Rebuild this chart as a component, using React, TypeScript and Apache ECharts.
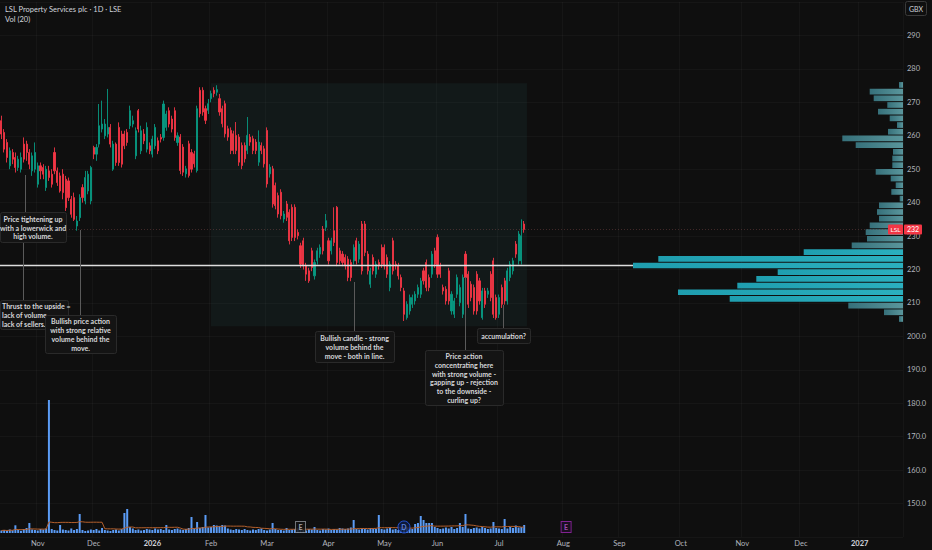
import React, { useEffect, useRef } from "react";
import * as echarts from "echarts";

// ---------- axis / calendar ----------
const START_DATE = "2025-10-15";
const AXIS_BARS = 323;
const HOLIDAYS = [
  "2025-12-25", "2025-12-26", "2026-01-01", "2026-04-03", "2026-04-06",
  "2026-05-04", "2026-05-25", "2026-08-31", "2026-12-25", "2026-12-28", "2027-01-01",
];
const MONTHS = ["Jan", "Feb", "Mar", "Apr", "May", "Jun", "Jul", "Aug", "Sep", "Oct", "Nov", "Dec"];

// ---------- price data (daily OHLC) ----------
const opens = [
  264.5, 261, 258, 251, 255, 253.5, 250.5, 250, 257.5, 257.5,
  255, 249.5, 250, 245.5, 251, 250.5, 244.5, 249.5, 248.5, 255,
  249.5, 248, 248.5, 247, 246.5, 241, 241.5, 233, 235.5, 244.5,
  240.5, 243.5, 240.5, 256.5, 254.5, 257.5, 262, 260, 260.5, 262.5,
  250, 257.5, 262.5, 260.5, 260.5, 261, 263, 263.5, 254, 267.5,
  255.5, 260.5, 256, 257, 254.5, 257, 258.5, 259.5, 259.5, 262.5,
  267.5, 265, 267.5, 258, 259.6, 256.6, 248.6, 257.6, 255, 254.6,
  249.6, 273.6, 273.6, 268.1, 267.6, 271.1, 273.6, 273, 271.1, 268.1,
  269.6, 262.1, 261.6, 260.6, 260.1, 259.6, 257.1, 257.1, 255.6, 259.6,
  259.1, 258.1, 252.1, 257.1, 256.1, 261.6, 248.6, 250.1, 245.1, 242.1,
  243.1, 235.1, 239.6, 237.1, 238.6, 238.6, 231.1, 227.1, 228.6, 221.1,
  219.6, 225.6, 218.1, 222.6, 224.6, 232.1, 232.6, 228.6, 225.6, 231.6,
  238.6, 225.6, 224.6, 223.6, 223.1, 222.1, 222.6, 228.6, 223.1, 233.6,
  233.6, 224.6, 215.6, 223.6, 218.6, 222.1, 226.6, 226.6, 223.6, 214.6,
  228.6, 221.6, 221.1, 217.6, 213.6, 205.6, 207.6, 209.6, 210.6, 212.6,
  212.6, 219.6, 222.1, 217.6, 218.6, 225.6, 229.6, 221.1, 214.6, 214.1,
  219.6, 207.6, 206.6, 212.6, 210.1, 206.6, 224.6, 218.6, 215.6, 214.6,
  218.6, 216.6, 205.6, 213.6, 212.6, 218.6, 222.6, 211.6, 206.6, 214.6,
  216.6, 210.6, 217.6, 219.6, 227.6, 222.6, 222.6, 233.6,
];
const closes = [
  260.5, 256, 253.5, 255.5, 253, 250.5, 253, 253.5, 253, 255,
  251.5, 254, 255, 251, 249.5, 248.5, 250, 247.5, 245.5, 249.5,
  246, 243.5, 243, 238.5, 241.5, 236.5, 235, 234.5, 241.5, 241.5,
  247.5, 248.5, 250.5, 254.5, 256.5, 263, 263.5, 263.5, 262.5, 257.5,
  257.5, 252, 252, 251.5, 257, 258, 267.5, 264.5, 261.5, 262,
  261.5, 258.5, 262.5, 255.5, 259, 262.5, 255.5, 259, 269.5, 266.5,
  263.5, 262, 259.5, 260, 249.6, 249.1, 250.1, 248.1, 250, 251.6,
  268.1, 266.6, 267.1, 264.6, 269.6, 272.6, 272.6, 273.8, 267.1, 263.6,
  260.6, 259.6, 255.6, 255.6, 255.6, 252.1, 251.1, 253.1, 260.1, 258.1,
  255.6, 255.6, 258.1, 255.6, 251.6, 245.6, 250.6, 239.6, 239.1, 236.6,
  236.1, 236.6, 235.6, 228.6, 229.6, 229.6, 230.1, 221.6, 221.1, 218.6,
  216.6, 220.6, 222.1, 225.6, 226.6, 225.6, 234.6, 222.6, 228.6, 228.1,
  222.1, 222.6, 222.1, 221.1, 217.6, 217.6, 226.6, 222.6, 227.6, 219.6,
  225.1, 219.6, 219.6, 219.6, 221.6, 221.1, 221.6, 221.1, 218.6, 221.6,
  219.6, 221.1, 218.1, 214.6, 206.6, 209.6, 211.6, 211.6, 212.6, 214.6,
  216.6, 216.6, 214.6, 214.6, 224.6, 221.6, 218.6, 218.6, 213.6, 210.6,
  210.6, 212.6, 210.6, 217.6, 214.6, 217.6, 217.6, 209.6, 211.6, 207.6,
  207.6, 210.6, 213.6, 209.6, 213.6, 211.6, 206.6, 205.6, 211.6, 209.6,
  210.6, 219.6, 221.6, 222.6, 224.6, 230.6, 230.1, 232,
];
const lows = [
  259, 255, 252, 250, 251.5, 249, 249.5, 249, 252, 252.5,
  250, 248, 249, 244.5, 247, 247, 243.5, 246.5, 244.5, 248.5,
  245, 243, 241, 237.5, 240.5, 235.5, 234.5, 231.6, 234.5, 240,
  239.5, 242.5, 239.5, 253, 252.5, 256.5, 261, 259, 259.5, 256.5,
  249.5, 251, 251, 250.5, 256, 257, 262, 262.5, 253, 261,
  254.5, 257.5, 255, 254.5, 253.5, 256, 254.5, 258, 258.5, 261.5,
  262.5, 261, 258.5, 257, 248.5, 248, 247.5, 247.5, 249, 250.5,
  249, 265.5, 266, 263.5, 266.5, 270, 271.5, 272, 266, 262.5,
  259.5, 258.5, 254.5, 254.5, 254.5, 251, 250, 252, 254.5, 257,
  254.5, 254.5, 251, 254.5, 250.5, 244.5, 247.5, 238.5, 238, 235.5,
  235, 234, 234.5, 227.5, 228.5, 228.5, 229, 220.5, 220, 216.6,
  216, 219.5, 217, 221.5, 223.5, 224.5, 231.5, 221.5, 224.5, 227,
  221, 221.5, 221, 220, 216.5, 216.5, 221.5, 221.5, 222, 218.5,
  224, 218.5, 214.5, 218.5, 217.5, 220, 220.5, 220, 217.5, 213.5,
  218.5, 220, 217, 213.5, 204.6, 205, 206.5, 208.5, 209.5, 211.5,
  211.5, 215.5, 213.5, 213.5, 217.5, 220.5, 217.5, 217.5, 212.5, 209.5,
  209.5, 206.5, 205.5, 211.5, 209, 205.5, 216.5, 208.5, 210.5, 206.5,
  206.5, 209.5, 205, 208.5, 211.5, 210.5, 205.5, 205, 205.5, 208.5,
  209.5, 209.5, 216.5, 218.5, 223.5, 221.5, 221.5, 231,
];
const highs = [
  266, 262, 259, 256.5, 256, 255, 254, 255, 259.5, 258.5,
  256, 255, 258, 252, 252, 251.5, 251, 251, 250, 256.5,
  250.5, 249, 250, 248, 247.5, 242, 243, 236, 242.5, 245.5,
  249.5, 249.5, 251, 257, 257.5, 269.5, 270.5, 265, 274, 263.5,
  258.5, 258, 264, 261.5, 261.5, 262, 269, 266, 262.5, 268,
  263, 262, 264, 258, 260, 263.5, 259.5, 260.5, 270.5, 267.5,
  268.5, 266, 268.5, 261, 260.5, 257.5, 251, 258.5, 256, 255.5,
  269, 274.5, 274.5, 269, 271, 273.5, 274.5, 275.1, 272.5, 269,
  270.5, 263, 262.5, 261.5, 264.1, 260.5, 258, 258, 265.6, 260.5,
  260, 259, 261.6, 258, 257, 262.5, 251.5, 251, 246, 243,
  244, 237.5, 240.5, 238, 239.5, 239.5, 232, 228, 229.5, 222,
  220.5, 226.5, 223, 226.5, 227.5, 233, 236.6, 229.5, 229.5, 238.6,
  239, 226.5, 225.5, 224.5, 224, 223, 227.5, 229.5, 228.5, 234.5,
  234.5, 225.5, 220.5, 224.5, 222.5, 223, 227.5, 227.5, 224.5, 222.5,
  229.5, 222.5, 222, 218.5, 214.5, 210.5, 212.5, 212.5, 213.5, 215.5,
  217.5, 220.5, 223, 218.5, 225.5, 226.5, 230.5, 222, 215.5, 215,
  220.5, 213.5, 211.5, 218.5, 215.5, 218.5, 225.5, 219.5, 216.5, 215.5,
  219.5, 217.5, 214.5, 214.5, 214.5, 219.5, 223.5, 212.5, 212.5, 215.5,
  217.5, 220.5, 222.5, 223.5, 228.5, 231.5, 235, 234.5,
];
// volume (thousand shares)
const volumes = [
  25, 30, 20, 35, 28, 77, 30, 22, 40, 50,
  100, 35, 30, 25, 40, 35, 45, 1330, 40, 30,
  25, 80, 35, 30, 25, 45, 30, 40, 190, 30,
  20, 25, 35, 30, 40, 25, 50, 30, 25, 20,
  30, 35, 25, 40, 200, 240, 60, 45, 30, 35,
  25, 30, 40, 35, 30, 45, 35, 40, 30, 80,
  35, 30, 40, 45, 35, 30, 40, 50, 160, 45,
  110, 50, 60, 180, 55, 60, 80, 75, 70, 80,
  75, 45, 35, 30, 40, 35, 30, 40, 30, 25,
  35, 30, 40, 45, 30, 25, 35, 100, 40, 30,
  30, 25, 50, 30, 35, 40, 45, 35, 30, 25,
  40, 35, 60, 30, 25, 40, 35, 45, 30, 40,
  35, 50, 45, 40, 45, 55, 130, 40, 35, 45,
  40, 35, 50, 45, 40, 180, 40, 35, 45, 50,
  35, 40, 30, 45, 55, 50, 45, 40, 90, 100,
  170, 130, 100, 100, 100, 60, 50, 40, 45, 55,
  45, 60, 40, 50, 100, 60, 190, 45, 40, 50,
  55, 45, 60, 50, 40, 45, 110, 50, 45, 40,
  140, 45, 60, 50, 75, 55, 60, 80,
];
const VOL_MA_LEN = 20;

// ---------- visible range volume profile ----------
const profilePrices = [
  275.2, 273.2, 271.2, 269.2, 267.2, 265.2, 263.2, 261.2, 259.2, 257.2,
  255.2, 253.2, 251.2, 249.2, 247.2, 245.2, 243.2, 241.2, 239.2, 237.2,
  235.2, 233.2, 231.2, 229.2, 227.2, 225.2, 223.2, 221.2, 219.2, 217.2,
  215.2, 213.2, 211.2, 209.2, 207.2, 205.2,
];
const profileVolumes = [
  40, 333, 293, 157, 250, 133, 60, 150, 607, 473,
  100, 107, 107, 273, 123, 73, 117, 33, 240, 260,
  240, 333, 373, 360, 513, 993, 2447, 2700, 1253, 1467,
  1657, 2250, 1733, 547, 190, 40,
];
const PROFILE_ROW = 2;
const VA_LOW = 210.2;
const VA_HIGH = 226.2;

// ---------- chart events ----------
const eventIndex = [107, 144, 202];
const eventText = ["E", "D", "E"];

// ---------- highlighted range ----------
const RANGE_START = 75;
const RANGE_END = 188;
const RANGE_HIGH = 275.7;
const RANGE_LOW = 203;

// ---------- annotations (layout) ----------
const notes = [
  { lines: ["Price tightening up", "with a lowerwick and", "high volume."], box: [0, 212, 66, 30], align: "center" },
  { lines: ["Thrust to the upside =", "lack of volume", "lack of sellers."], box: [0, 300, 68, 29], align: "left" },
  { lines: ["Bullish price action", "with strong relative", "volume behind the", "move."], box: [45, 315, 71, 38], align: "center" },
  { lines: ["Bullish candle - strong", "volume behind the", "move - both in line."], box: [315, 331, 79, 31], align: "center" },
  {
    lines: ["Price action", "concentrating here", "with strong volume -", "gapping up - rejection", "to the downside -", "curling up?"],
    box: [425, 350, 78, 55],
    align: "center",
  },
  { lines: ["accumulation?"], box: [477, 328, 53, 15], align: "center" },
];
const connectors = [
  [25, 175, 212],
  [23, 242, 300],
  [80, 230, 315],
  [354, 282, 331],
  [465, 277, 350],
  [503, 305, 328],
];
const NOTE_LINE_H = 8.7;

const FONT = "Lato, 'Open Sans', sans-serif";

function buildDates(): string[] {
  const out: string[] = [];
  const hol = new Set(HOLIDAYS);
  const [y, m, d] = START_DATE.split("-").map(Number);
  let t = Date.UTC(y, m - 1, d);
  while (out.length < AXIS_BARS) {
    const dt = new Date(t);
    const wd = dt.getUTCDay();
    const s = dt.toISOString().slice(0, 10);
    if (wd !== 0 && wd !== 6 && !hol.has(s)) out.push(s);
    t += 86400000;
  }
  return out;
}

export default function App() {
  const ref = useRef<HTMLDivElement>(null);
  useEffect(() => {
    const chart = echarts.init(ref.current!, null, { renderer: "svg" });
    const dates = buildDates();
    const monthStart = new Set<number>();
    dates.forEach((s, i) => {
      if (i === 0) return;
      if (s.slice(0, 7) !== dates[i - 1].slice(0, 7)) monthStart.add(i);
    });
    const candles = opens.map((o, i) => [o, closes[i], lows[i], highs[i]]);
    const volMA = volumes.map((_, i) => {
      const s = Math.max(0, i - VOL_MA_LEN + 1);
      let sum = 0;
      for (let k = s; k <= i; k++) sum += volumes[k];
      return +(sum / (i - s + 1)).toFixed(2);
    });
    const lastClose = closes[closes.length - 1];
    const pocVol = Math.max(...profileVolumes);

    const brightGrad = new echarts.graphic.LinearGradient(0, 0, 1, 0, [
      { offset: 0, color: "#1f9eaf" },
      { offset: 1, color: "#2bb0bf" },
    ]);
    const mutedGrad = new echarts.graphic.LinearGradient(0, 0, 1, 0, [
      { offset: 0, color: "#36707a" },
      { offset: 1, color: "#5a969c" },
    ]);

    const eventStyles = [
      { fill: "#141414", border: "#8f939b", text: "#c8cad0", symbol: "rect" },
      { fill: "#0c1c44", border: "#2962ff", text: "#6f9bff", symbol: "circle" },
      { fill: "#1d0f24", border: "#9c27b0", text: "#c35bd6", symbol: "rect" },
    ];

    const option: any = {
      animation: false,
      backgroundColor: "#0f0f0f",
      textStyle: { fontFamily: FONT },
      grid: { left: 0, right: 29, top: 2, bottom: 13, containLabel: false },
      xAxis: [
        {
          type: "category",
          data: dates,
          boundaryGap: true,
          axisLine: { show: false },
          axisTick: { show: false },
          axisLabel: {
            interval: (i: number) => monthStart.has(i),
            formatter: (v: string) => {
              const mo = Number(v.slice(5, 7)) - 1;
              return mo === 0 ? "{y|" + v.slice(0, 4) + "}" : MONTHS[mo];
            },
            rich: { y: { fontWeight: "bold", color: "#d1d4dc", fontSize: 7.5, fontFamily: FONT } },
            color: "#b2b5be",
            fontSize: 7.5,
            margin: 2,
          },
          splitLine: {
            show: true,
            interval: (i: number) => monthStart.has(i),
            lineStyle: { color: "rgba(255,255,255,0.03)", width: 1 },
          },
        },
        { type: "value", inverse: true, min: 0, max: 9030, show: false, gridIndex: 0 },
      ],
      yAxis: [
        {
          type: "value",
          position: "right",
          min: 140,
          max: 300,
          interval: 10,
          axisLine: { show: false },
          axisTick: { show: false },
          axisLabel: {
            showMinLabel: false,
            showMaxLabel: false,
            color: "#b2b5be",
            fontSize: 7.5,
            margin: 4,
            formatter: (v: number) => (v >= 210 ? String(v) : v.toFixed(1)),
          },
          splitLine: { lineStyle: { color: "rgba(255,255,255,0.03)", width: 1 } },
        },
        { type: "value", min: -40, max: 5310, show: false, splitLine: { show: false } },
      ],
      series: [
        {
          name: "LSL",
          type: "candlestick",
          xAxisIndex: 0,
          yAxisIndex: 0,
          data: candles,
          barWidth: 1.6,
          itemStyle: {
            color: "#089981",
            color0: "#f23645",
            borderColor: "#089981",
            borderColor0: "#f23645",
            borderWidth: 0.9,
          },
          markArea: {
            silent: true,
            itemStyle: { color: "rgba(45,95,95,0.14)" },
            data: [[{ xAxis: dates[RANGE_START], yAxis: RANGE_HIGH }, { xAxis: dates[RANGE_END], yAxis: RANGE_LOW }]],
          },
          markLine: {
            silent: true,
            symbol: ["none", "none"],
            label: { show: false },
            lineStyle: { color: "rgba(160,90,90,0.35)", type: [1, 2], width: 1 },
            data: [{ yAxis: lastClose }],
          },
          z: 2,
        },
        {
          name: "Vol",
          type: "bar",
          xAxisIndex: 0,
          yAxisIndex: 1,
          data: volumes,
          barWidth: 2,
          itemStyle: { color: "#5b9cf6" },
          z: 1,
        },
        {
          name: "Vol MA",
          type: "line",
          xAxisIndex: 0,
          yAxisIndex: 1,
          data: volMA,
          showSymbol: false,
          lineStyle: { color: "#b4602d", width: 1 },
          z: 2,
        },
        {
          name: "Profile",
          type: "custom",
          xAxisIndex: 1,
          yAxisIndex: 0,
          clip: false,
          z: 4,
          encode: { x: 0, y: 1 },
          data: profilePrices.map((p, i) => [profileVolumes[i], p]),
          renderItem: (params: any, api: any) => {
            const vol = api.value(0);
            const price = api.value(1);
            const tr = api.coord([0, price + PROFILE_ROW / 2]);
            const bl = api.coord([vol, price - PROFILE_ROW / 2]);
            const inVA = price > VA_LOW && price < VA_HIGH;
            const children: any[] = [
              {
                type: "rect",
                shape: { x: bl[0], y: tr[1] + 0.5, width: tr[0] - bl[0], height: bl[1] - tr[1] - 1 },
                style: { fill: inVA ? brightGrad : mutedGrad },
              },
            ];
            if (vol === pocVol) {
              const mid = api.coord([vol, price]);
              children.push({
                type: "line",
                shape: { x1: params.coordSys.x, y1: mid[1], x2: bl[0], y2: mid[1] },
                style: { stroke: "#dedede", lineWidth: 1.5 },
              });
            }
            return { type: "group", children };
          },
        },
        {
          name: "Events",
          type: "scatter",
          xAxisIndex: 0,
          yAxisIndex: 1,
          z: 5,
          data: eventIndex.map((ix, k) => {
            const st = eventStyles[k];
            return {
              value: [ix, 60],
              symbol: st.symbol,
              symbolSize: st.symbol === "circle" ? 12 : [10, 11],
              itemStyle: { color: st.fill, borderColor: st.border, borderWidth: 1 },
              label: {
                show: true,
                position: "inside",
                formatter: eventText[k],
                color: st.text,
                fontSize: 7,
                fontWeight: "bold",
              },
            };
          }),
        },
      ],
    };
    chart.setOption(option);

    const yLast = chart.convertToPixel({ yAxisIndex: 0 }, lastClose) as number;
    const graphics: any[] = [];
    graphics.push({
      type: "text", x: 5, y: 9, z: 20,
      style: { text: "LSL Property Services plc · 1D · LSE", fill: "#d1d4dc", fontSize: 7.5, fontFamily: FONT, verticalAlign: "middle" },
    });
    graphics.push({
      type: "text", x: 5, y: 19.5, z: 20,
      style: { text: "Vol (20)", fill: "#d1d4dc", fontSize: 7.5, fontFamily: FONT, verticalAlign: "middle" },
    });
    graphics.push({
      type: "rect", z: 20, shape: { x: 905.5, y: 1.5, width: 21, height: 14, r: 2 },
      style: { fill: "#0f0f0f", stroke: "#3a3a3a", lineWidth: 1 },
    });
    graphics.push({
      type: "text", x: 916, y: 9, z: 21,
      style: { text: "GBX", fill: "#d1d4dc", fontSize: 7, fontFamily: FONT, align: "center", verticalAlign: "middle" },
    });
    connectors.forEach(([x, y1, y2]) => {
      graphics.push({
        type: "line", z: 10,
        shape: { x1: x + 0.5, y1, x2: x + 0.5, y2 },
        style: { stroke: "#5a5a5a", lineWidth: 1 },
      });
    });
    notes.forEach((n, k) => {
      const [bx, by, bw, bh] = n.box;
      graphics.push({
        type: "rect", z: 11 + k * 2,
        shape: { x: bx + 0.5, y: by + 0.5, width: bw, height: bh, r: 2 },
        style: { fill: "#141414", stroke: "#2a2a2a", lineWidth: 1 },
      });
      const cy = by + bh / 2 + 0.5;
      const nL = n.lines.length;
      n.lines.forEach((line, j) => {
        graphics.push({
          type: "text", z: 12 + k * 2,
          x: n.align === "left" ? bx + 2 : bx + bw / 2,
          y: cy + (j - (nL - 1) / 2) * NOTE_LINE_H,
          style: {
            text: line, fill: "#d6d7da", fontSize: 7, fontWeight: "bold", fontFamily: FONT,
            align: n.align, verticalAlign: "middle",
          },
        });
      });
    });
    graphics.push({
      type: "rect", z: 30, shape: { x: 888, y: yLast - 5, width: 15, height: 10, r: 1 },
      style: { fill: "#f23645" },
    });
    graphics.push({
      type: "text", z: 31, x: 895.5, y: yLast,
      style: { text: "LSL", fill: "#ffffff", fontSize: 6.5, fontFamily: FONT, align: "center", verticalAlign: "middle" },
    });
    graphics.push({
      type: "rect", z: 30, shape: { x: 904, y: yLast - 5, width: 18, height: 10, r: 1 },
      style: { fill: "#f23645" },
    });
    graphics.push({
      type: "text", z: 31, x: 913, y: yLast,
      style: { text: String(Math.round(lastClose)), fill: "#ffffff", fontSize: 7, fontFamily: FONT, align: "center", verticalAlign: "middle" },
    });
    chart.setOption({ graphic: graphics });

    return () => chart.dispose();
  }, []);
  return <div ref={ref} style={{ position: "fixed", left: 0, top: 0, width: 932, height: 550 }} />;
}
